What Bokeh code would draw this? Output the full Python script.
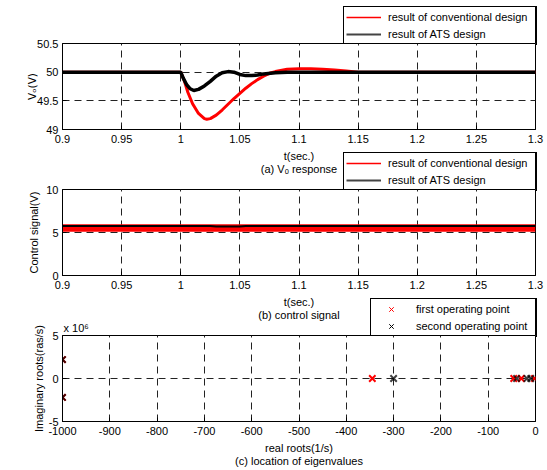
from bokeh.plotting import figure
from bokeh.models import Legend, LegendItem, FixedTicker, Spacer
from bokeh.layouts import column, row
from bokeh.embed import file_html
from bokeh.resources import INLINE

FONT = "Liberation Sans"

# ---------------- (a) Vo response ----------------
t_conv = [0.9, 1.0, 1.003, 1.006, 1.01, 1.015, 1.02, 1.022, 1.025, 1.03, 1.035, 1.04,
          1.045, 1.05, 1.055, 1.06, 1.065, 1.07, 1.075, 1.08, 1.09, 1.1, 1.11, 1.12,
          1.13, 1.14, 1.15, 1.3]
vo_conv = [50.0, 50.0, 49.85, 49.65, 49.45, 49.28, 49.19, 49.18, 49.19, 49.25, 49.34, 49.44,
           49.54, 49.63, 49.72, 49.80, 49.87, 49.93, 49.98, 50.01, 50.05, 50.06, 50.06, 50.05,
           50.04, 50.02, 50.0, 50.0]
t_ats = [0.9, 1.0, 1.002, 1.005, 1.008, 1.011, 1.015, 1.02, 1.025, 1.03, 1.035, 1.04,
         1.045, 1.05, 1.055, 1.06, 1.065, 1.07, 1.08, 1.09, 1.3]
vo_ats = [50.0, 50.0, 49.9, 49.78, 49.71, 49.68, 49.70, 49.76, 49.84, 49.93, 49.99, 50.01,
          50.0, 49.96, 49.94, 49.94, 49.95, 49.97, 49.99, 50.0, 50.0]

# ---------------- (b) control signal ----------------
t_ctrl = [0.9, 1.3]
ctrl_conv_low = [5.1, 5.1]
ctrl_conv_high = [5.95, 5.95]
t_ctrl_ats = [0.9, 1.025, 1.03, 1.05, 1.055, 1.3]
ctrl_ats = [5.75, 5.75, 5.7, 5.7, 5.75, 5.75]

# ---------------- (c) eigenvalues ----------------
re_first = [-1000, -1000, -345, -46, -30, -2]
im_first = [2.2e6, -2.2e6, 0, 0, 0, 0]
re_second = [-1000, -1000, -300, -40, -18, -10]
im_second = [2.2e6, -2.2e6, 0, 0, 0, 0]

t_ticks = [0.9, 0.95, 1.0, 1.05, 1.1, 1.15, 1.2, 1.25, 1.3]
t_tick_labels = ["0.9", "0.95", "1", "1.05", "1.1", "1.15", "1.2", "1.25", "1.3"]
vo_ticks = [49, 49.5, 50, 50.5]
vo_tick_labels = ["49", "49.5", "50", "50.5"]
ctrl_ticks = [0, 5, 10]
ctrl_tick_labels = ["0", "5", "10"]
re_ticks = [-1000, -900, -800, -700, -600, -500, -400, -300, -200, -100, 0]
re_tick_labels = ["-1000", "-900", "-800", "-700", "-600", "-500", "-400", "-300", "-200", "-100", "0"]
im_ticks = [-5e6, 0, 5e6]
im_tick_labels = ["-5", "0", "5"]

legend_a = ["result of conventional design", "result of ATS design"]
legend_b = ["result of conventional design", "result of ATS design"]
legend_c = ["first operating point", "second operating point"]

W = 547
LEFT = 62
RIGHT = 12
TOP = 37
BOTTOM = 48
FRAME_H = 87
FIG_H = TOP + FRAME_H + BOTTOM
LEG_H = 2 * 2 + 16 * 2 + 1
INSET = 5
FS = "11px"
FIG_TOPS = [6, 152, 298]


def style(p, xt, xl, yt, yl, xlabel, ylabel, ystandoff):
    p.xaxis.ticker = FixedTicker(ticks=xt)
    p.xaxis.major_label_overrides = {k: v for k, v in zip(xt, xl)}
    p.yaxis.ticker = FixedTicker(ticks=yt)
    p.yaxis.major_label_overrides = {k: v for k, v in zip(yt, yl)}
    for ax in (p.xaxis[0], p.yaxis[0]):
        ax.major_tick_in = 4
        ax.major_tick_out = 0
        ax.minor_tick_line_color = None
        ax.axis_line_color = "black"
        ax.major_tick_line_color = "black"
        ax.major_label_text_font = FONT
        ax.major_label_text_font_size = FS
        ax.major_label_text_color = "black"
        ax.axis_label_text_font = FONT
        ax.axis_label_text_font_size = FS
        ax.axis_label_text_font_style = "normal"
        ax.axis_label_text_color = "black"
        ax.axis_label_text_line_height = 1.15
    p.xaxis.major_label_standoff = 5
    p.yaxis.major_label_standoff = 4
    p.xaxis.axis_label = xlabel
    p.xaxis.axis_label_standoff = 4
    p.yaxis.axis_label = ylabel
    p.yaxis.axis_label_standoff = ystandoff
    p.xgrid.ticker = FixedTicker(ticks=xt)
    p.ygrid.ticker = FixedTicker(ticks=yt)
    for g in (p.xgrid[0], p.ygrid[0]):
        g.grid_line_color = "#222222"
        g.grid_line_dash = "7 5"
        g.grid_line_width = 1
    p.outline_line_color = "black"
    p.outline_line_width = 1
    p.outline_line_alpha = 1
    p.border_fill_alpha = 0
    p.background_fill_color = "white"


def new_fig(x_range, y_range, margin_top, title=None):
    kw = {}
    if title is not None:
        kw["title"] = title
    return figure(width=W, height=FIG_H, x_range=x_range, y_range=y_range,
                  output_backend="svg", toolbar_location=None,
                  min_border_left=LEFT, min_border_right=RIGHT, min_border_top=TOP,
                  min_border_bottom=BOTTOM, margin=(margin_top, 0, 0, 0), **kw)


def legend_box(labels, kinds, glyph_width, label_width, standoff, left, margin_top):
    lw = 2 * 2 + glyph_width + standoff + label_width
    fw = lw + 2 * INSET
    fh = LEG_H + 2 * INSET
    f = figure(width=fw, height=fh, x_range=(0, fw), y_range=(0, fh),
               x_axis_type=None, y_axis_type=None, output_backend="svg",
               toolbar_location=None, min_border=0)
    f.xgrid.visible = False
    f.ygrid.visible = False
    f.outline_line_color = None
    f.background_fill_alpha = 0
    f.border_fill_alpha = 0
    # legend frame (decoration, in pixel-sized data units of this small figure)
    f.quad(left=[INSET], right=[INSET + lw], bottom=[INSET], top=[INSET + LEG_H],
           fill_color="white", line_color="black", line_width=1)
    items = []
    for lab, (kind, color, lw_) in zip(labels, kinds):
        if kind == "line":
            r = f.line([-2, -1], [-2, -1], line_color=color, line_width=lw_)
        else:
            r = f.scatter([-2], [-2], marker="x", size=10, line_color=color, line_width=lw_)
        items.append(LegendItem(label=lab, renderers=[r]))
    lg = Legend(items=items, location="top_left", margin=INSET, padding=2, spacing=1,
                glyph_width=glyph_width, glyph_height=16, label_height=16,
                label_width=label_width, label_standoff=standoff,
                label_text_font=FONT, label_text_font_size=FS, label_text_color="black",
                border_line_color="black", border_line_width=1, border_line_alpha=1,
                background_fill_alpha=0)
    f.add_layout(lg, "center")
    return row(Spacer(width=left - INSET, height=fh), f, margin=(margin_top, 0, 0, 0))


line_kinds = [("line", "red", 1.5), ("line", "#444444", 2)]
mark_kinds = [("x", "red", 1), ("x", "black", 1)]

children = []
cursor = 0


def place_pair(leg_args, fig_builder, top):
    global cursor
    leg_top = top - INSET
    leg = legend_box(*leg_args, margin_top=leg_top - cursor)
    cursor = leg_top + LEG_H + 2 * INSET
    fig = fig_builder(top - cursor)
    cursor = top + FIG_H
    children.extend([leg, fig])
    return fig


# ---------- figure 1 ----------
p1 = place_pair((legend_a, line_kinds, 35, 146, 7, 343),
                lambda m: new_fig((0.9, 1.3), (49, 50.5), m), FIG_TOPS[0])
style(p1, t_ticks, t_tick_labels, vo_ticks, vo_tick_labels, "t(sec.)\n(a) Vₒ response", "Vₒ(V)", -4)
p1.yaxis.axis_label_text_font = "DejaVu Sans"
p1.yaxis.axis_label_text_font_size = "10.5px"
p1.line(t_conv, vo_conv, line_color="red", line_width=3)
p1.line(t_ats, vo_ats, line_color="black", line_width=3.5)

# ---------- figure 2 ----------
p2 = place_pair((legend_b, line_kinds, 35, 146, 7, 343),
                lambda m: new_fig((0.9, 1.3), (0, 10), m), FIG_TOPS[1])
style(p2, t_ticks, t_tick_labels, ctrl_ticks, ctrl_tick_labels, "t(sec.)\n(b) control signal",
      "Control signal(V)", 3)
p2.varea(x=t_ctrl, y1=ctrl_conv_low, y2=ctrl_conv_high, fill_color="red")
p2.line(t_ctrl_ats, ctrl_ats, line_color="black", line_width=2)

# ---------- figure 3 ----------
p3 = place_pair((legend_c, mark_kinds, 36, 118, 7, 370),
                lambda m: new_fig((-1000, 0), (-5e6, 5e6), m, title="x 10⁶"), FIG_TOPS[2])
p3.title.align = "left"
p3.title.text_font = FONT
p3.title.text_font_size = FS
p3.title.text_font_style = "normal"
p3.title.text_color = "black"
p3.title.standoff = 3
p3.title.offset = 1
style(p3, re_ticks, re_tick_labels, im_ticks, im_tick_labels,
      "real roots(1/s)\n(c) location of eigenvalues", "Imaginary roots(ras/s)", 1)
p3.scatter(re_first, im_first, marker="x", size=9, line_color="red", line_width=2)
p3.scatter(re_second, im_second, marker="x", size=9, line_color="black", line_width=2, line_alpha=0.75)

layout = column(*children, spacing=0)
open("out.html", "w").write(file_html(layout, INLINE))
